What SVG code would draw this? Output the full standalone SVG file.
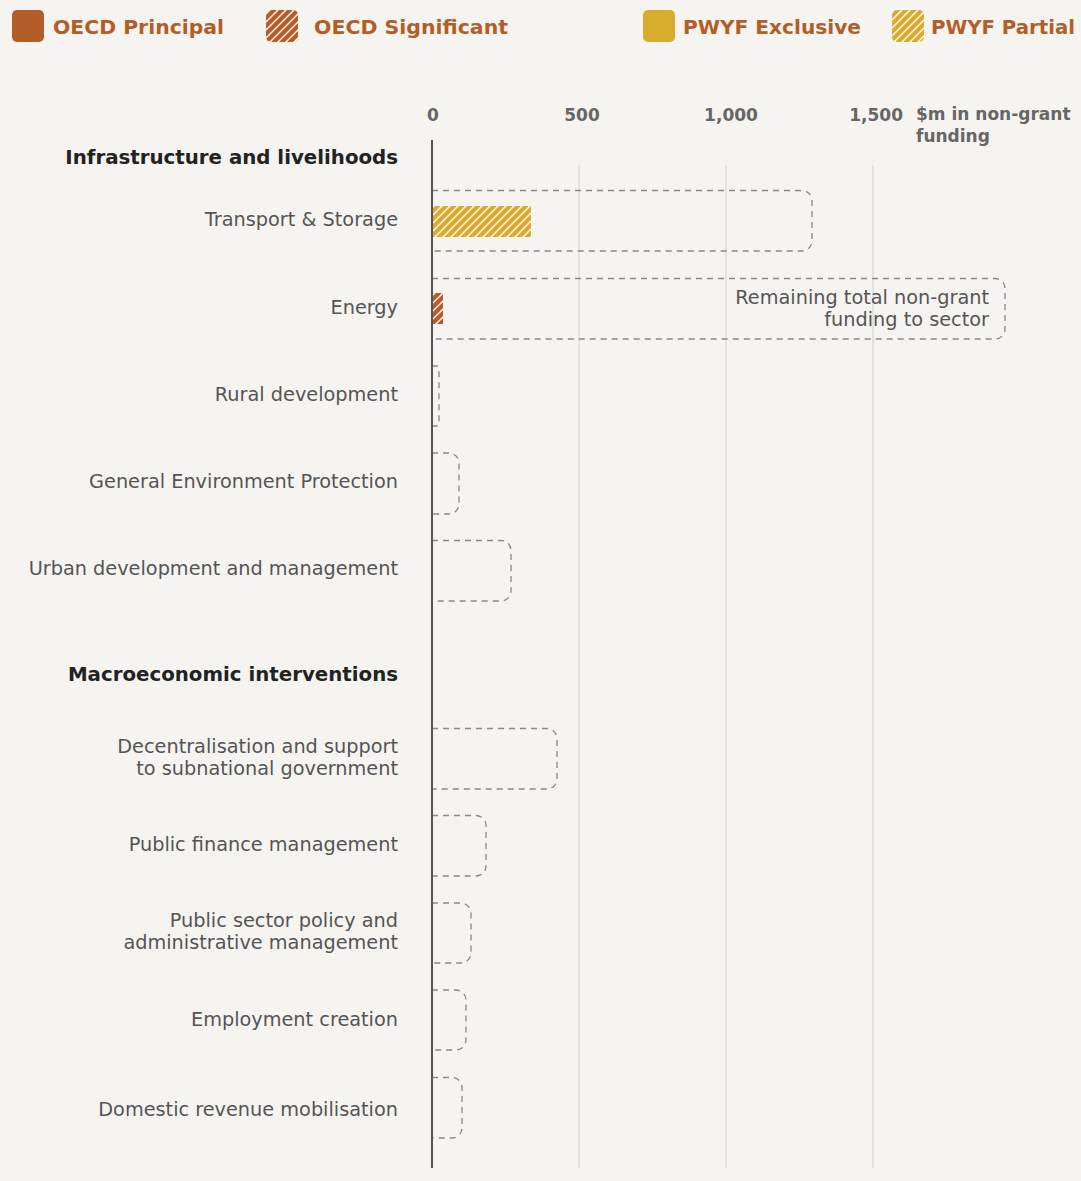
<svg xmlns="http://www.w3.org/2000/svg" width="1081" height="1181" viewBox="0 0 1081 1181">
  <style>
    .legend { font-family: "DejaVu Sans", "Noto Sans", sans-serif; font-size: 20px; font-weight: 700; fill: #b35d28; }
    .tick { font-family: "DejaVu Sans", "Noto Sans", sans-serif; font-size: 17px; font-weight: 700; fill: #666; }
    .head { font-family: "DejaVu Sans", "Noto Sans", sans-serif; font-size: 19.8px; font-weight: 700; fill: #222; text-anchor: end; }
    .label { font-family: "DejaVu Sans", "Noto Sans", sans-serif; font-size: 19.3px; fill: #555; text-anchor: end; }
    .note { font-family: "DejaVu Sans", "Noto Sans", sans-serif; font-size: 19.3px; fill: #555; text-anchor: end; }
    .grid { stroke: #d6d6d6; stroke-width: 1.2; }
    .axis { stroke: #555; stroke-width: 2; }
    .total { fill: none; stroke: #888; stroke-width: 1.3; stroke-dasharray: 6 5; }
  </style>
  <defs>
    <pattern id="hatchOrange" patternUnits="userSpaceOnUse" width="8" height="8">
      <rect width="8" height="8" fill="#b35d28"/>
      <path d="M-2,2 L2,-2 M0,8 L8,0 M6,10 L10,6" stroke="#fff" stroke-width="1.4"/>
    </pattern>
    <pattern id="hatchYellow" patternUnits="userSpaceOnUse" width="8" height="8">
      <rect width="8" height="8" fill="#d8ac2d"/>
      <path d="M-2,2 L2,-2 M0,8 L8,0 M6,10 L10,6" stroke="#fff" stroke-width="1.4"/>
    </pattern>
  </defs>

  <rect width="1081" height="1181" fill="#f5f4f0"/>

  <!-- legend -->
  <g id="legend">
    <g id="legend-oecd-principal">
      <rect x="12" y="10" width="32" height="32" rx="5" fill="#b35d28"/>
      <text class="legend" x="53" y="34" textLength="171" lengthAdjust="spacingAndGlyphs">OECD Principal</text>
    </g>
    <g id="legend-oecd-significant">
      <rect x="266" y="10" width="32" height="32" rx="5" fill="url(#hatchOrange)"/>
      <text class="legend" x="314" y="34" textLength="194" lengthAdjust="spacingAndGlyphs">OECD Significant</text>
    </g>
    <g id="legend-pwyf-exclusive">
      <rect x="643" y="10" width="32" height="32" rx="5" fill="#d8ac2d"/>
      <text class="legend" x="683" y="34" textLength="178" lengthAdjust="spacingAndGlyphs">PWYF Exclusive</text>
    </g>
    <g id="legend-pwyf-partial">
      <rect x="892" y="10" width="32" height="32" rx="5" fill="url(#hatchYellow)"/>
      <text class="legend" x="931" y="34" textLength="144" lengthAdjust="spacingAndGlyphs">PWYF Partial</text>
    </g>
  </g>

  <!-- axis, gridlines and scale -->
  <g id="axis">
    <line class="grid" x1="579" y1="165" x2="579" y2="1168"/>
    <line class="grid" x1="726" y1="165" x2="726" y2="1168"/>
    <line class="grid" x1="873" y1="165" x2="873" y2="1168"/>
    <text class="tick" x="433" y="121" text-anchor="middle">0</text>
    <text class="tick" x="582" y="121" text-anchor="middle">500</text>
    <text class="tick" x="731" y="121" text-anchor="middle">1,000</text>
    <text class="tick" x="903" y="121" text-anchor="end">1,500</text>
    <text class="tick" x="916" y="120">$m in non-grant</text>
    <text class="tick" x="916" y="142">funding</text>
  </g>

  <!-- section headings -->
  <g id="heading-infrastructure"><text class="head" x="398" y="164">Infrastructure and livelihoods</text></g>
  <g id="heading-macro"><text class="head" x="398" y="681">Macroeconomic interventions</text></g>

  <!-- dashed outlines: remaining total non-grant funding per sector -->
  <g id="totals">
    <path class="total" d="M432,190.5 H802 A10,10 0 0 1 812,200.5 V241 A10,10 0 0 1 802,251 H432"/>
    <path class="total" d="M432,278.5 H995 A10,10 0 0 1 1005,288.5 V329 A10,10 0 0 1 995,339 H432"/>
    <path class="total" d="M432,366 H437 A2,2 0 0 1 439,368 V424 A2,2 0 0 1 437,426 H432"/>
    <path class="total" d="M432,453 H449 A10,10 0 0 1 459,463 V504 A10,10 0 0 1 449,514 H432"/>
    <path class="total" d="M432,540.5 H501 A10,10 0 0 1 511,550.5 V591 A10,10 0 0 1 501,601 H432"/>
    <path class="total" d="M432,728.5 H547 A10,10 0 0 1 557,738.5 V779 A10,10 0 0 1 547,789 H432"/>
    <path class="total" d="M432,815.5 H476 A10,10 0 0 1 486,825.5 V866 A10,10 0 0 1 476,876 H432"/>
    <path class="total" d="M432,903 H461 A10,10 0 0 1 471,913 V953 A10,10 0 0 1 461,963 H432"/>
    <path class="total" d="M432,990 H456 A10,10 0 0 1 466,1000 V1040 A10,10 0 0 1 456,1050 H432"/>
    <path class="total" d="M432,1077.5 H452 A10,10 0 0 1 462,1087.5 V1128 A10,10 0 0 1 452,1138 H432"/>
    <text class="note" x="989" y="304">Remaining total non-grant</text>
    <text class="note" x="989" y="326">funding to sector</text>
  </g>

  <!-- sector rows -->
  <g id="row-transport">
    <text class="label" x="398" y="226">Transport &amp; Storage</text>
    <rect x="433" y="206" width="98" height="31" fill="url(#hatchYellow)"/>
  </g>
  <g id="row-energy">
    <text class="label" x="398" y="314">Energy</text>
    <rect x="433" y="293" width="10" height="31" fill="url(#hatchOrange)"/>
  </g>
  <g id="row-rural"><text class="label" x="398" y="401">Rural development</text></g>
  <g id="row-environment"><text class="label" x="398" y="488">General Environment Protection</text></g>
  <g id="row-urban"><text class="label" x="398" y="575">Urban development and management</text></g>
  <g id="row-decentralisation">
    <text class="label" x="398" y="753">Decentralisation and support</text>
    <text class="label" x="398" y="775">to subnational government</text>
  </g>
  <g id="row-pfm"><text class="label" x="398" y="851">Public finance management</text></g>
  <g id="row-public-sector">
    <text class="label" x="398" y="927">Public sector policy and</text>
    <text class="label" x="398" y="949">administrative management</text>
  </g>
  <g id="row-employment"><text class="label" x="398" y="1026">Employment creation</text></g>
  <g id="row-revenue"><text class="label" x="398" y="1116">Domestic revenue mobilisation</text></g>

  <line class="axis" x1="432" y1="140" x2="432" y2="1168"/>
</svg>
